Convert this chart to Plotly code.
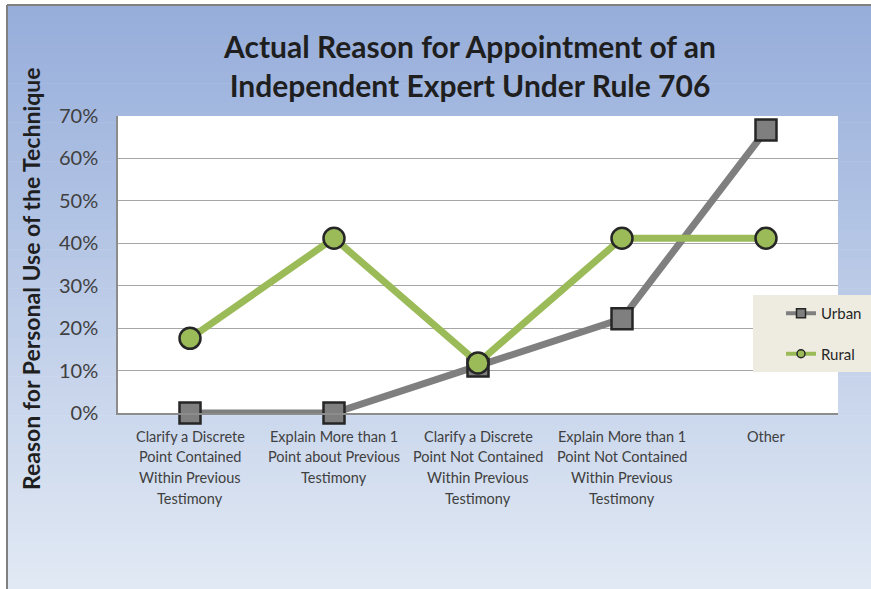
import plotly.graph_objects as go

categories = [
    "Clarify a Discrete<br>Point Contained<br>Within Previous<br>Testimony",
    "Explain More than 1<br>Point about Previous<br>Testimony",
    "Clarify a Discrete<br>Point Not Contained<br>Within Previous<br>Testimony",
    "Explain More than 1<br>Point Not Contained<br>Within Previous<br>Testimony",
    "Other",
]
urban = [0.0, 0.0, 0.111, 0.222, 0.667]
rural = [0.176, 0.412, 0.118, 0.412, 0.412]
y_ticks = [0, 0.1, 0.2, 0.3, 0.4, 0.5, 0.6, 0.7]
y_tick_labels = ["0%", "10%", "20%", "30%", "40%", "50%", "60%", "70%"]
title_text = "Actual Reason for Appointment of an<br>Independent Expert Under Rule 706"
y_title = "Reason for Personal Use of the Technique"

W, H = 871, 589
PL, PR, PT, PB = 118, 838, 116, 413
FONT = "Lato"

def px_x(px):
    return (px - PL) / (PR - PL)

def px_y(py):
    return (PB - py) / (PB - PT)

xs = list(range(len(categories)))
fig = go.Figure()

GRAY = "#7f7f7f"
GREEN = "#9bbb59"
EDGE = "#262626"

fig.add_trace(go.Scatter(x=xs, y=urban, mode="lines+markers", name="Urban",
                         line=dict(color=GRAY, width=7),
                         marker=dict(symbol="square", size=21, color=GRAY,
                                     line=dict(color=EDGE, width=2.5)),
                         showlegend=False, cliponaxis=False))
fig.add_trace(go.Scatter(x=xs, y=rural, mode="lines+markers", name="Rural",
                         line=dict(color=GREEN, width=7),
                         marker=dict(symbol="circle", size=21, color=GREEN,
                                     line=dict(color=EDGE, width=2.5)),
                         showlegend=False, cliponaxis=False))
# legend entries
fig.add_trace(go.Scatter(x=[None], y=[None], mode="lines+markers", name="Urban",
                         line=dict(color=GRAY, width=4), legendgroup="u",
                         marker=dict(symbol="square", size=9, color=GRAY,
                                     line=dict(color=EDGE, width=1.5))))
fig.add_trace(go.Scatter(x=[None], y=[None], mode="lines+markers", name="Rural",
                         line=dict(color=GREEN, width=4), legendgroup="r",
                         marker=dict(symbol="circle", size=8, color=GREEN,
                                     line=dict(color=EDGE, width=1.5))))

shapes = []
# gradient background bands
top_c = (150, 174, 219)
bot_c = (226, 233, 244)
y_start, y_end = 5, H + 2
n = 60
for i in range(n):
    a = y_start + (y_end - y_start) * i / n
    b = y_start + (y_end - y_start) * (i + 1) / n
    t = (i + 0.5) / n
    c = tuple(round(top_c[k] + (bot_c[k] - top_c[k]) * t) for k in range(3))
    shapes.append(dict(type="rect", xref="paper", yref="paper",
                       x0=px_x(7), x1=px_x(W + 5), y0=px_y(a), y1=px_y(b + 0.6),
                       fillcolor="rgb(%d,%d,%d)" % c, line=dict(width=0), layer="below"))
# frame border
shapes.append(dict(type="line", xref="paper", yref="paper", x0=px_x(7), x1=px_x(7),
                   y0=px_y(5), y1=px_y(H + 5), line=dict(color="#808080", width=2), layer="below"))
shapes.append(dict(type="line", xref="paper", yref="paper", x0=px_x(7), x1=px_x(W + 5),
                   y0=px_y(5), y1=px_y(5), line=dict(color="#808080", width=2), layer="below"))
# white plot area
shapes.append(dict(type="rect", xref="paper", yref="paper", x0=0, x1=1, y0=0, y1=1,
                   fillcolor="white", line=dict(width=0), layer="below"))
# legend box
shapes.append(dict(type="rect", xref="paper", yref="paper", x0=px_x(753), x1=px_x(W + 5),
                   y0=px_y(372), y1=px_y(295), fillcolor="#eeece1", line=dict(width=0),
                   layer="above"))

annotations = []
annotations.append(dict(text=y_title, textangle=-90, xref="paper", yref="paper",
                        x=px_x(31), y=px_y(279), showarrow=False,
                        font=dict(family=FONT, size=23, color="#1f1f1f", weight="bold"),
                        xanchor="center", yanchor="middle"))
for i, cat in enumerate(categories):
    for j, line in enumerate(cat.split("<br>")):
        annotations.append(dict(text=line, x=i, xref="x", yref="paper",
                                y=px_y(436 + j * 20.7), showarrow=False,
                                xanchor="center", yanchor="middle",
                                font=dict(family=FONT, size=14.5, color="#404040")))

fig.update_layout(
    width=W, height=H, autosize=False,
    margin=dict(l=PL, r=W - PR, t=PT, b=H - PB, autoexpand=False),
    paper_bgcolor="white",
    plot_bgcolor="rgba(0,0,0,0)",
    title=dict(text=title_text, x=px_x(470), xref="paper", xanchor="center",
               y=1 - 58 / H, yref="container", yanchor="middle",
               font=dict(family=FONT, size=30, color="#1f1f1f", weight="bold")),
    xaxis=dict(range=[-0.5, 4.5], showticklabels=False, showgrid=False,
               zeroline=False, showline=True, linecolor="#8c8c8c", linewidth=2,
               fixedrange=True),
    yaxis=dict(range=[0, 0.7], tickvals=y_ticks, ticktext=y_tick_labels,
               showgrid=True, gridcolor="#a6a6a6", gridwidth=1, zeroline=False,
               showline=True, linecolor="#8c8c8c", linewidth=1.5,
               ticks="outside", ticklen=14, tickcolor="rgba(0,0,0,0)",
               tickfont=dict(family=FONT, size=20, color="#404040")),
    legend=dict(xref="container", yref="container", x=781 / W, y=1 - 297 / H,
                xanchor="left", yanchor="top",
                bgcolor="rgba(0,0,0,0)", borderwidth=0, tracegroupgap=18,
                font=dict(family=FONT, size=15, color="#262626"),
                itemclick=False),
    shapes=shapes,
    annotations=annotations,
    showlegend=True,
)

fig.write_html("out.html", config={"displayModeBar": False},
               post_script="document.body.style.margin='0';")
